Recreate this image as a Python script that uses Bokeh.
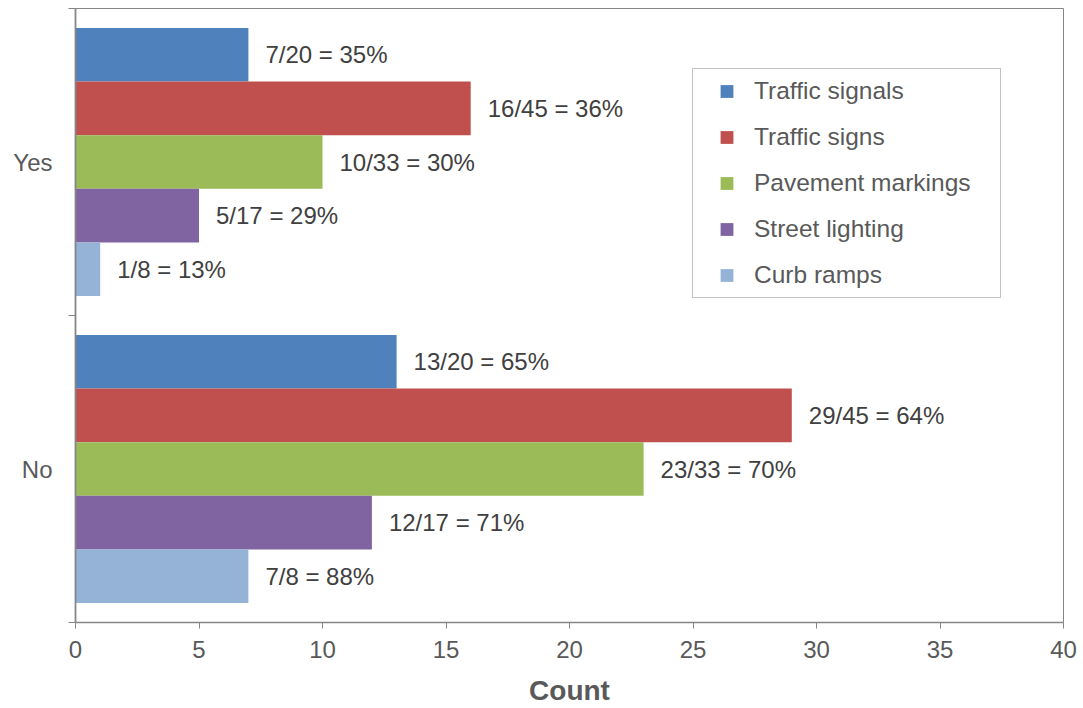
import math
from bokeh.plotting import figure
from bokeh.models import (ColumnDataSource, Range1d, FixedTicker, Legend, LegendItem)
from bokeh.core.properties import value
from bokeh.embed import file_html
from bokeh.resources import INLINE

# ---- data ----
categories = ["No", "Yes"]            # bottom to top
series = ["Traffic signals", "Traffic signs", "Pavement markings", "Street lighting", "Curb ramps"]
yes_counts = [7, 16, 10, 5, 1]
no_counts = [13, 29, 23, 12, 7]
totals = [20, 45, 33, 17, 8]
colors = ["#4F81BD", "#C0504D", "#9BBB59", "#8064A2", "#95B3D7"]
x_ticks = [0, 5, 10, 15, 20, 25, 30, 35, 40]

FONT = "Liberation Sans"

p = figure(width=1083, height=708, output_backend="svg", toolbar_location=None,
           x_range=Range1d(0, 40), y_range=Range1d(0, 2),
           min_border_left=75, min_border_right=20, min_border_top=8, min_border_bottom=86)
p.background_fill_color = "white"
p.border_fill_color = "white"
p.outline_line_color = "#868686"
p.outline_line_width = 1
p.xgrid.visible = False
p.ygrid.visible = False

bar_h = 0.1746
cat_center = {"No": 0.5, "Yes": 1.5}

proxies = []
for i, name in enumerate(series):
    vals = [no_counts[i], yes_counts[i]]
    ys = [cat_center[c] + (2 - i) * bar_h for c in categories]
    labels = [f"{v}/{totals[i]} = {int(math.floor(100 * v / totals[i] + 0.5))}%" for v in vals]
    src = ColumnDataSource(dict(y=ys, v=vals, label=labels))
    p.hbar(y="y", right="v", left=0, height=bar_h, source=src,
           fill_color=colors[i], line_color=None)
    p.text(x="v", y="y", text="label", source=src, x_offset=17,
           text_baseline="middle", text_align="left",
           text_font=value(FONT), text_font_size="24px", text_color="#404040")
    # legend-only swatch (no visible point on the plot)
    proxies.append(p.scatter(x=[float("nan")], y=[float("nan")], marker="square", size=13,
                             fill_color=colors[i], line_color=None))

legend = Legend(items=[LegendItem(label=n, renderers=[r]) for n, r in zip(series, proxies)],
                location=(617, 324), orientation="vertical",
                padding=6, spacing=14, margin=0,
                glyph_width=55, glyph_height=32, label_height=32, label_width=240,
                label_standoff=0,
                label_text_font=FONT, label_text_font_size="24.5px",
                label_text_color="#595959",
                border_line_color="#868686", border_line_width=1,
                background_fill_color="white", background_fill_alpha=1.0)
p.add_layout(legend)

# x axis
xa = p.xaxis[0]
xa.ticker = FixedTicker(ticks=x_ticks)
xa.axis_line_color = "#868686"
xa.axis_line_width = 1.3
xa.major_tick_line_color = "#868686"
xa.major_tick_out = 6
xa.major_tick_in = 0
xa.minor_tick_line_color = None
xa.major_label_text_font = FONT
xa.major_label_text_font_size = "24px"
xa.major_label_text_color = "#595959"
xa.major_label_standoff = 12
xa.axis_label = "Count"
xa.axis_label_text_font = FONT
xa.axis_label_text_font_size = "28px"
xa.axis_label_text_font_style = "bold"
xa.axis_label_text_color = "#595959"
xa.axis_label_standoff = 14

# y axis
ya = p.yaxis[0]
ya.ticker = FixedTicker(ticks=[cat_center[c] for c in categories], minor_ticks=[0, 1, 2])
ya.major_label_overrides = {cat_center[c]: c for c in categories}
ya.axis_line_color = "#868686"
ya.axis_line_width = 1.8
ya.major_tick_line_color = None
ya.major_tick_out = 0
ya.major_tick_in = 0
ya.minor_tick_line_color = "#868686"
ya.minor_tick_out = 7
ya.minor_tick_in = 0
ya.major_label_text_font = FONT
ya.major_label_text_font_size = "24px"
ya.major_label_text_color = "#595959"
ya.major_label_standoff = 16

open("out.html", "w").write(file_html(p, INLINE))
